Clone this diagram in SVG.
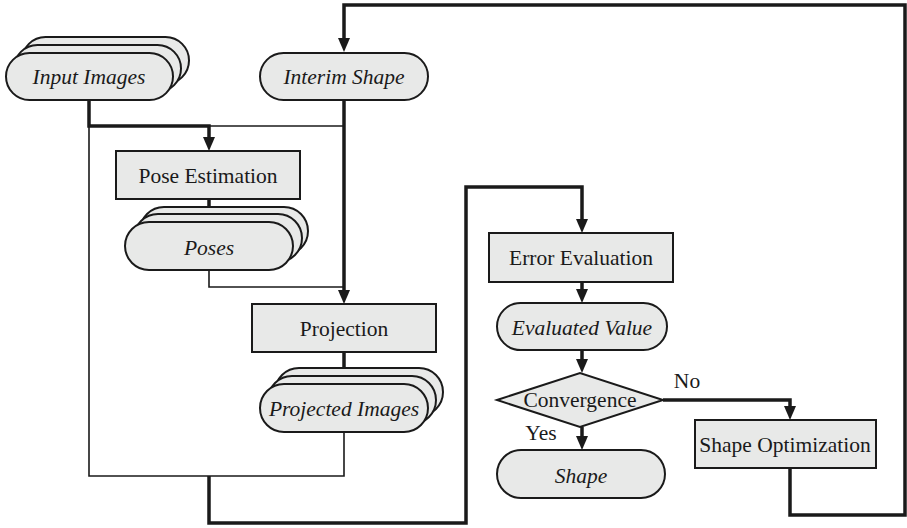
<svg xmlns="http://www.w3.org/2000/svg" width="907" height="528" viewBox="0 0 907 528" font-family="'Liberation Serif', 'Times New Roman', 'DejaVu Serif', serif">
<style>
.n{fill:#e8e9e8;stroke:#1a1a1a;stroke-width:2}
text{font-family:'Liberation Serif','Times New Roman','DejaVu Serif',serif;font-size:21.5px;fill:#1a1a1a;text-anchor:middle}
.i{font-style:italic}
.k{fill:none;stroke:#1a1a1a;stroke-width:3.5}
.h{fill:none;stroke:#1a1a1a;stroke-width:1.6}
</style>
<defs>
<marker id="ah" viewBox="0 0 14 12" markerWidth="14" markerHeight="12" refX="8" refY="6" orient="auto" markerUnits="userSpaceOnUse">
<path d="M0,0 L14,6 L0,12 z" fill="#1a1a1a"/>
</marker>
</defs>
<g id="connectors">
<path class="h" d="M209,126 H344"/>
<path class="h" d="M89,126 V476 H344 V432"/>
<path class="h" d="M209,270 V287 H344"/>
<path class="k" d="M790,468 V515 H905 V5 H344 V46" marker-end="url(#ah)"/>
<path class="k" d="M89,100 V126 H209 V145" marker-end="url(#ah)"/>
<path class="k" d="M344,100 V298" marker-end="url(#ah)"/>
<path class="k" d="M209,199 V216" marker-end="url(#ah)"/>
<path class="k" d="M344,352 V377" marker-end="url(#ah)"/>
<path class="k" d="M209,476 V523 H466 V187 H582 V227" marker-end="url(#ah)"/>
<path class="k" d="M582,282 V297" marker-end="url(#ah)"/>
<path class="k" d="M582,350 V367" marker-end="url(#ah)"/>
<path class="k" d="M582,427 V444" marker-end="url(#ah)"/>
<path class="k" d="M663,400 H790 V414" marker-end="url(#ah)"/>
</g>
<g id="input-images">
<rect class="n" x="22" y="37" width="167" height="47" rx="23.5"/>
<rect class="n" x="14" y="45" width="167" height="47" rx="23.5"/>
<rect class="n" x="6" y="53" width="167" height="47" rx="23.5"/>
<text class="i" x="89" y="84">Input Images</text>
</g>
<g id="interim-shape">
<rect class="n" x="260" y="53" width="168" height="47" rx="23.5"/>
<text class="i" x="344" y="84">Interim Shape</text>
</g>
<g id="pose-estimation">
<rect class="n" x="116" y="151" width="184" height="48"/>
<text x="208" y="183">Pose Estimation</text>
</g>
<g id="poses">
<rect class="n" x="140" y="207" width="168" height="48" rx="24"/>
<rect class="n" x="134" y="214" width="168" height="48" rx="24"/>
<rect class="n" x="125" y="222" width="168" height="48" rx="24"/>
<text class="i" x="209" y="255">Poses</text>
</g>
<g id="projection">
<rect class="n" x="252" y="304" width="184" height="48"/>
<text x="344" y="336">Projection</text>
</g>
<g id="projected-images">
<rect class="n" x="275" y="368" width="168" height="48" rx="24"/>
<rect class="n" x="268" y="376" width="168" height="48" rx="24"/>
<rect class="n" x="260" y="384" width="168" height="48" rx="24"/>
<text class="i" x="344" y="416">Projected Images</text>
</g>
<g id="error-evaluation">
<rect class="n" x="489" y="233" width="184" height="49"/>
<text x="581" y="265">Error Evaluation</text>
</g>
<g id="evaluated-value">
<rect class="n" x="497" y="303" width="170" height="47" rx="23.5"/>
<text class="i" x="582" y="335">Evaluated Value</text>
</g>
<g id="convergence">
<path class="n" d="M497,400 L580,373 L663,400 L580,427 Z"/>
<text x="580" y="407">Convergence</text>
</g>
<g id="labels">
<text x="687" y="388">No</text>
<text x="541" y="440">Yes</text>
</g>
<g id="shape">
<rect class="n" x="497" y="450" width="168" height="48" rx="24"/>
<text class="i" x="581" y="483">Shape</text>
</g>
<g id="shape-optimization">
<rect class="n" x="695" y="420" width="181" height="48"/>
<text x="785" y="452">Shape Optimization</text>
</g>
</svg>
